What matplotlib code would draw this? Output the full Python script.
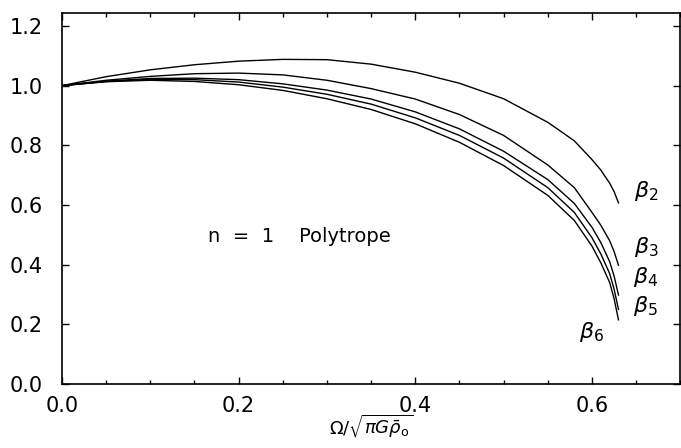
import numpy as np
import matplotlib
matplotlib.use("Agg")
from matplotlib import pyplot as plt
from matplotlib.ticker import MultipleLocator

# values
omega = [0.0, 0.05, 0.10, 0.15, 0.20, 0.25, 0.30, 0.35, 0.40, 0.45,
         0.50, 0.55, 0.58, 0.60, 0.61, 0.62, 0.625, 0.63]

beta2 = [1.000, 1.030, 1.053, 1.070, 1.082, 1.088, 1.087, 1.072, 1.045, 1.008,
         0.956, 0.877, 0.815, 0.752, 0.717, 0.673, 0.645, 0.607]
beta3 = [1.000, 1.018, 1.031, 1.040, 1.042, 1.036, 1.018, 0.990, 0.955, 0.903,
         0.833, 0.734, 0.658, 0.575, 0.532, 0.480, 0.444, 0.398]
beta4 = [1.000, 1.015, 1.024, 1.025, 1.020, 1.006, 0.985, 0.955, 0.912, 0.855,
         0.780, 0.685, 0.605, 0.525, 0.474, 0.410, 0.362, 0.298]
beta5 = [1.000, 1.014, 1.021, 1.020, 1.012, 0.995, 0.971, 0.938, 0.892, 0.833,
         0.757, 0.658, 0.575, 0.490, 0.436, 0.370, 0.318, 0.250]
beta6 = [1.000, 1.013, 1.018, 1.014, 1.003, 0.984, 0.956, 0.920, 0.872, 0.810,
         0.732, 0.632, 0.548, 0.462, 0.406, 0.340, 0.286, 0.215]

curves = [beta2, beta3, beta4, beta5, beta6]
labels = [r'$\beta_2$', r'$\beta_3$', r'$\beta_4$', r'$\beta_5$', r'$\beta_6$']
label_pos = [(0.661, 0.647), (0.661, 0.459), (0.661, 0.359), (0.661, 0.262), (0.599, 0.174)]

plt.rcParams['font.family'] = ['DejaVu Sans']
plt.rcParams['mathtext.fontset'] = 'dejavusans'

fig = plt.figure(figsize=(6.81, 4.48), dpi=100)
ax = fig.add_axes([0.091, 0.143, 0.908, 0.829])

for c in curves:
    ax.plot(omega, c, color='black', lw=1.0)

for lab, (lx, ly) in zip(labels, label_pos):
    ax.text(lx, ly, lab, fontsize=16, ha='center', va='center')

ax.text(0.165, 0.493, 'n  =  1    Polytrope', fontsize=14, ha='left', va='center')

ax.set_xlim(0, 0.7)
ax.set_ylim(0, 1.245)
ax.xaxis.set_major_locator(MultipleLocator(0.2))
ax.xaxis.set_minor_locator(MultipleLocator(0.05))
ax.yaxis.set_major_locator(MultipleLocator(0.2))
ax.xaxis.set_major_formatter(matplotlib.ticker.FormatStrFormatter('%.1f'))
ax.yaxis.set_major_formatter(matplotlib.ticker.FormatStrFormatter('%.1f'))
ax.tick_params(which='both', direction='in', top=True, right=True, width=1.0)
ax.tick_params(which='major', length=5, labelsize=15)
ax.tick_params(which='minor', length=3)
ax.tick_params(axis='x', pad=9)
ax.tick_params(axis='y', pad=14)
for s in ax.spines.values():
    s.set_linewidth(1.2)

ax.set_xlabel(r'$\Omega/\sqrt{\pi G\bar{\rho}_{\rm o}}$', fontsize=13, labelpad=-3)

fig.savefig('out.png', dpi=100)
